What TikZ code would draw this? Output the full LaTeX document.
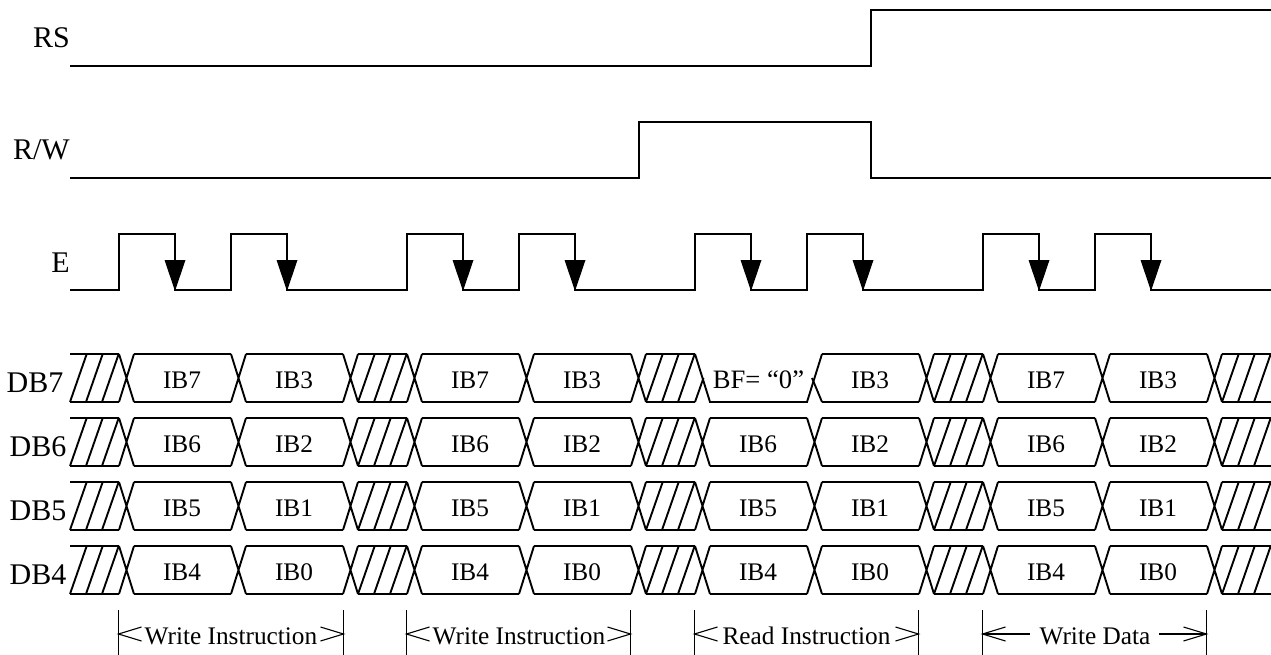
\documentclass[tikz,border=0pt]{standalone}
\usepackage{fontspec}
\setmainfont{Liberation Serif}
\newcommand{\sigfont}{\fontsize{30}{30}\selectfont}
\newcommand{\busfont}{\fontsize{25.3}{25.3}\selectfont}
\newcommand{\bffont}{\fontsize{26.6}{26.6}\selectfont}
\tikzset{
  wave/.style={line width=1.9pt, line join=miter},
  tick/.style={line width=1.3pt},
  barb/.style={line width=1.1pt},
  siglabel/.style={inner sep=0pt, anchor=base east, font=\sigfont},
  buslabel/.style={inner sep=0pt, anchor=base, font=\busfont},
  spanlabel/.style={inner sep=0pt, anchor=base, font=\busfont}
}
\begin{document}
\begin{tikzpicture}[x=1pt,y=-1pt]
\useasboundingbox (0,0) rectangle (1271,655);
% signal labels
\node[siglabel] (rs) at (70,48) {RS};
\node[siglabel] (rw) at (70,160) {R/W};
\node[siglabel] (e) at (70,272) {E};
% RS, R/W
\draw[wave] (70,66) -- (871,66) -- (871,10) -- (1271,10);
\draw[wave] (70,178) -- (639,178) -- (639,122) -- (871,122) -- (871,178) -- (1271,178);
% E
\draw[wave] (70,290)
  -- (119,290) -- (119,234) -- (175,234) -- (175,290) -- (231,290) -- (231,234) -- (287,234) -- (287,290)
  -- (407,290) -- (407,234) -- (463,234) -- (463,290) -- (519,290) -- (519,234) -- (575,234) -- (575,290)
  -- (695,290) -- (695,234) -- (751,234) -- (751,290) -- (807,290) -- (807,234) -- (863,234) -- (863,290)
  -- (983,290) -- (983,234) -- (1039,234) -- (1039,290) -- (1095,290) -- (1095,234) -- (1151,234) -- (1151,290)
  -- (1271,290);
\foreach \x in {175,287,463,575,751,863,1039,1151}
  \fill (\x-10.5,260) -- (\x+10.5,260) -- (\x,291) -- cycle;
% bus rows: hatched stretches and regular data stretches
\foreach \t/\b in {354/402,418/466,482/530,546/594} {
  \foreach \s in {70,358,646,934,1222} {
    \draw[wave] (\s,\t) -- (\s+48.7,\t) (\s,\b) -- (\s+48.7,\b);
    \foreach \k in {0,16,32}
      \draw[wave] (\s+\k,\b) -- (\s+\k+16.7,\t);
  }
  \foreach \s in {134,246,422,534,822,998,1110}
    \draw[wave] (\s,\t) -- (\s+97,\t) (\s,\b) -- (\s+97,\b);
  \foreach \s in {119,231,343,407,519,631,919,983,1095,1207}
    \draw[wave] (\s,\t) -- (\s+15,\b) (\s,\b) -- (\s+15,\t);
}
% middle read slot: full on DB6 to DB4
\foreach \t/\b in {418/466,482/530,546/594} {
  \draw[wave] (710,\t) -- (807,\t) (710,\b) -- (807,\b);
  \draw[wave] (695,\t) -- (710,\b) (695,\b) -- (710,\t);
  \draw[wave] (807,\t) -- (822,\b) (807,\b) -- (822,\t);
}
% middle read slot on DB7: BF, half crossings and no top edge
\draw[wave] (695,354) -- (710,402) -- (807,402) -- (822,354);
\draw[wave] (695,402) -- (703.5,378);
\draw[wave] (812,378) -- (822,402);
% bus row labels
\node[siglabel] (db7) at (63.5,392) {DB7};
\node[siglabel] (db6) at (66.5,456) {DB6};
\node[siglabel] (db5) at (66.5,520) {DB5};
\node[siglabel] (db4) at (66.5,584) {DB4};
% bus values
\foreach \y/\a/\b [count=\r] in {388/IB7/IB3,452/IB6/IB2,516/IB5/IB1,580/IB4/IB0} {
  \foreach \x in {182,470,1046}
    \node[buslabel] (a\r-\x) at (\x,\y) {\a};
  \foreach \x in {294,582,870,1158}
    \node[buslabel] (b\r-\x) at (\x,\y) {\b};
}
\node[buslabel, font=\bffont] (bf) at (758.5,388) {BF= “0”};
\node[buslabel] (a2m) at (758,452) {IB6};
\node[buslabel] (a3m) at (758,516) {IB5};
\node[buslabel] (a4m) at (758,580) {IB4};
% spans
\foreach \l/\rr in {118.5/343.5,406.5/630.5,694.5/918.5,982.5/1206.5}
  \draw[tick] (\l,610) -- (\l,655) (\rr,610) -- (\rr,655);
\node[spanlabel] (s1) at (231,644) {Write Instruction};
\node[spanlabel] (s2) at (519,644) {Write Instruction};
\node[spanlabel] (s3) at (806.5,644) {Read Instruction};
\node[spanlabel] (s4) at (1095,644) {Write Data};
\foreach \l/\rr in {118.5/343.5,406.5/630.5,694.5/918.5,982.5/1206.5} {
  \draw[barb] (\l+23,627) -- (\l,634) -- (\l+23,641);
  \draw[barb] (\rr-23,627) -- (\rr,634) -- (\rr-23,641);
}
\draw[barb] (982.5,634) -- (1030,634) (1159,634) -- (1206.5,634);
\end{tikzpicture}
\end{document}
